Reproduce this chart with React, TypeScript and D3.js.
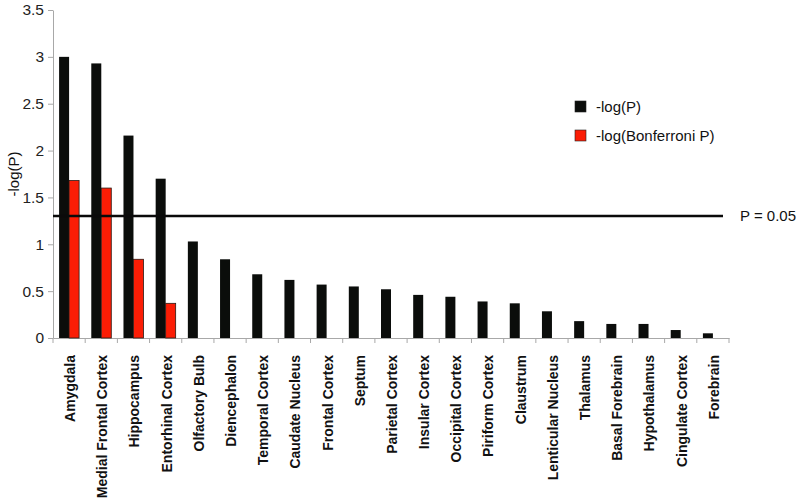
import React, { useEffect, useRef } from 'react';
import * as d3 from 'd3';

const regions = [
  'Amygdala', 'Medial Frontal Cortex', 'Hippocampus', 'Entorhinal Cortex', 'Olfactory Bulb',
  'Diencephalon', 'Temporal Cortex', 'Caudate Nucleus', 'Frontal Cortex', 'Septum',
  'Parietal Cortex', 'Insular Cortex', 'Occipital Cortex', 'Piriform Cortex', 'Claustrum',
  'Lenticular Nucleus', 'Thalamus', 'Basal Forebrain', 'Hypothalamus', 'Cingulate Cortex', 'Forebrain'
];
const logP = [3.0, 2.93, 2.16, 1.7, 1.03, 0.84, 0.68, 0.62, 0.57, 0.55, 0.52,
  0.46, 0.44, 0.39, 0.37, 0.285, 0.18, 0.15, 0.15, 0.085, 0.05];
const logBonf = [1.68, 1.6, 0.84, 0.37, null, null, null, null, null, null, null,
  null, null, null, null, null, null, null, null, null, null];
const yTicks = [0, 0.5, 1, 1.5, 2, 2.5, 3, 3.5];
const threshold = 1.301;

const W = 800, H = 502;

export default function App() {
  const ref = useRef<SVGSVGElement>(null);

  useEffect(() => {
    const svg = d3.select(ref.current);
    svg.selectAll('*').remove();

    const x = d3.scaleBand().domain(regions).range([53, 729]).paddingInner(0).paddingOuter(0);
    const x1 = d3.scaleBand().domain(['p', 'b']).range([x.bandwidth() / 2 - 10, x.bandwidth() / 2 + 10]);
    const y = d3.scaleLinear().domain([0, 3.5]).range([338, 10]);

    const font = 'Arial, "Liberation Sans", sans-serif';

    // y axis
    const ya = svg.append('g').attr('transform', 'translate(53,0)')
      .call(d3.axisLeft(y).tickValues(yTicks).tickSize(5).tickSizeOuter(0).tickFormat(d => String(d)));
    ya.select('.domain').attr('stroke', '#a8a8a8');
    ya.selectAll('.tick line').attr('stroke', '#a8a8a8');
    ya.selectAll('.tick text').attr('font-size', 15.5).attr('font-family', font).attr('fill', '#222').attr('x', -9);

    // x axis
    const xa = svg.append('g').attr('transform', 'translate(0,338)')
      .call(d3.axisBottom(x).tickSize(0).tickSizeOuter(0));
    xa.select('.domain').attr('stroke', '#a8a8a8');
    xa.selectAll('.tick text').remove();
    xa.selectAll('.tick line').remove();
    const bounds = regions.map(r => x(r) as number).concat([729]);
    xa.selectAll('line.b').data(bounds).join('line').attr('class', 'b')
      .attr('x1', d => d).attr('x2', d => d).attr('y1', 0).attr('y2', 5).attr('stroke', '#a8a8a8');

    // x labels
    svg.append('g').selectAll('text').data(regions).join('text')
      .attr('transform', d => `translate(${(x(d) as number) + x.bandwidth() / 2 + 1},355) rotate(-90)`)
      .attr('text-anchor', 'end').attr('dy', '0.35em')
      .attr('font-size', 14).attr('font-weight', 'bold').attr('font-family', font).attr('fill', '#111')
      .text(d => d);

    // bars
    const g = svg.append('g');
    g.selectAll('rect.p').data(regions).join('rect').attr('class', 'p')
      .attr('x', d => (x(d) as number) + (x1('p') as number))
      .attr('width', x1.bandwidth())
      .attr('y', (d, i) => y(logP[i]))
      .attr('height', (d, i) => y(0) - y(logP[i]))
      .attr('fill', '#0b0d0b');
    g.selectAll('rect.b').data(regions.filter((d, i) => logBonf[i] != null)).join('rect').attr('class', 'b')
      .attr('x', d => (x(d) as number) + (x1('b') as number))
      .attr('width', x1.bandwidth())
      .attr('y', d => y(logBonf[regions.indexOf(d)] as number))
      .attr('height', d => y(0) - y(logBonf[regions.indexOf(d)] as number))
      .attr('fill', '#fb1d05').attr('stroke', '#2a1a14').attr('stroke-width', 0.8);

    // threshold
    svg.append('line').attr('x1', 53).attr('x2', 723).attr('y1', y(threshold)).attr('y2', y(threshold))
      .attr('stroke', '#0a0a0a').attr('stroke-width', 2.5);
    svg.append('text').attr('x', 740).attr('y', y(threshold)).attr('dy', '0.35em')
      .attr('font-size', 15).attr('font-family', font).attr('fill', '#111').text('P = 0.05');

    // y title
    svg.append('text').attr('transform', `translate(14,174) rotate(-90)`).attr('text-anchor', 'middle')
      .attr('dy', '0.35em').attr('font-size', 15).attr('font-family', font).attr('fill', '#111').text('-log(P)');

    // legend
    const legend = [{ label: '-log(P)', color: '#0b0d0b' }, { label: '-log(Bonferroni P)', color: '#fb1d05' }];
    const lg = svg.append('g').selectAll('g').data(legend).join('g')
      .attr('transform', (d, i) => `translate(575,${101 + i * 29})`);
    lg.append('rect').attr('width', 11).attr('height', 11).attr('fill', d => d.color)
      .attr('stroke', '#222').attr('stroke-width', 0.6);
    lg.append('text').attr('x', 21).attr('y', 6).attr('dy', '0.35em').attr('font-size', 15)
      .attr('font-family', font).attr('fill', '#111').text(d => d.label);
  }, []);

  return (
    <svg ref={ref} width={W} height={H} style={{ position: 'absolute', left: 0, top: 0, background: '#fff' }} />
  );
}
